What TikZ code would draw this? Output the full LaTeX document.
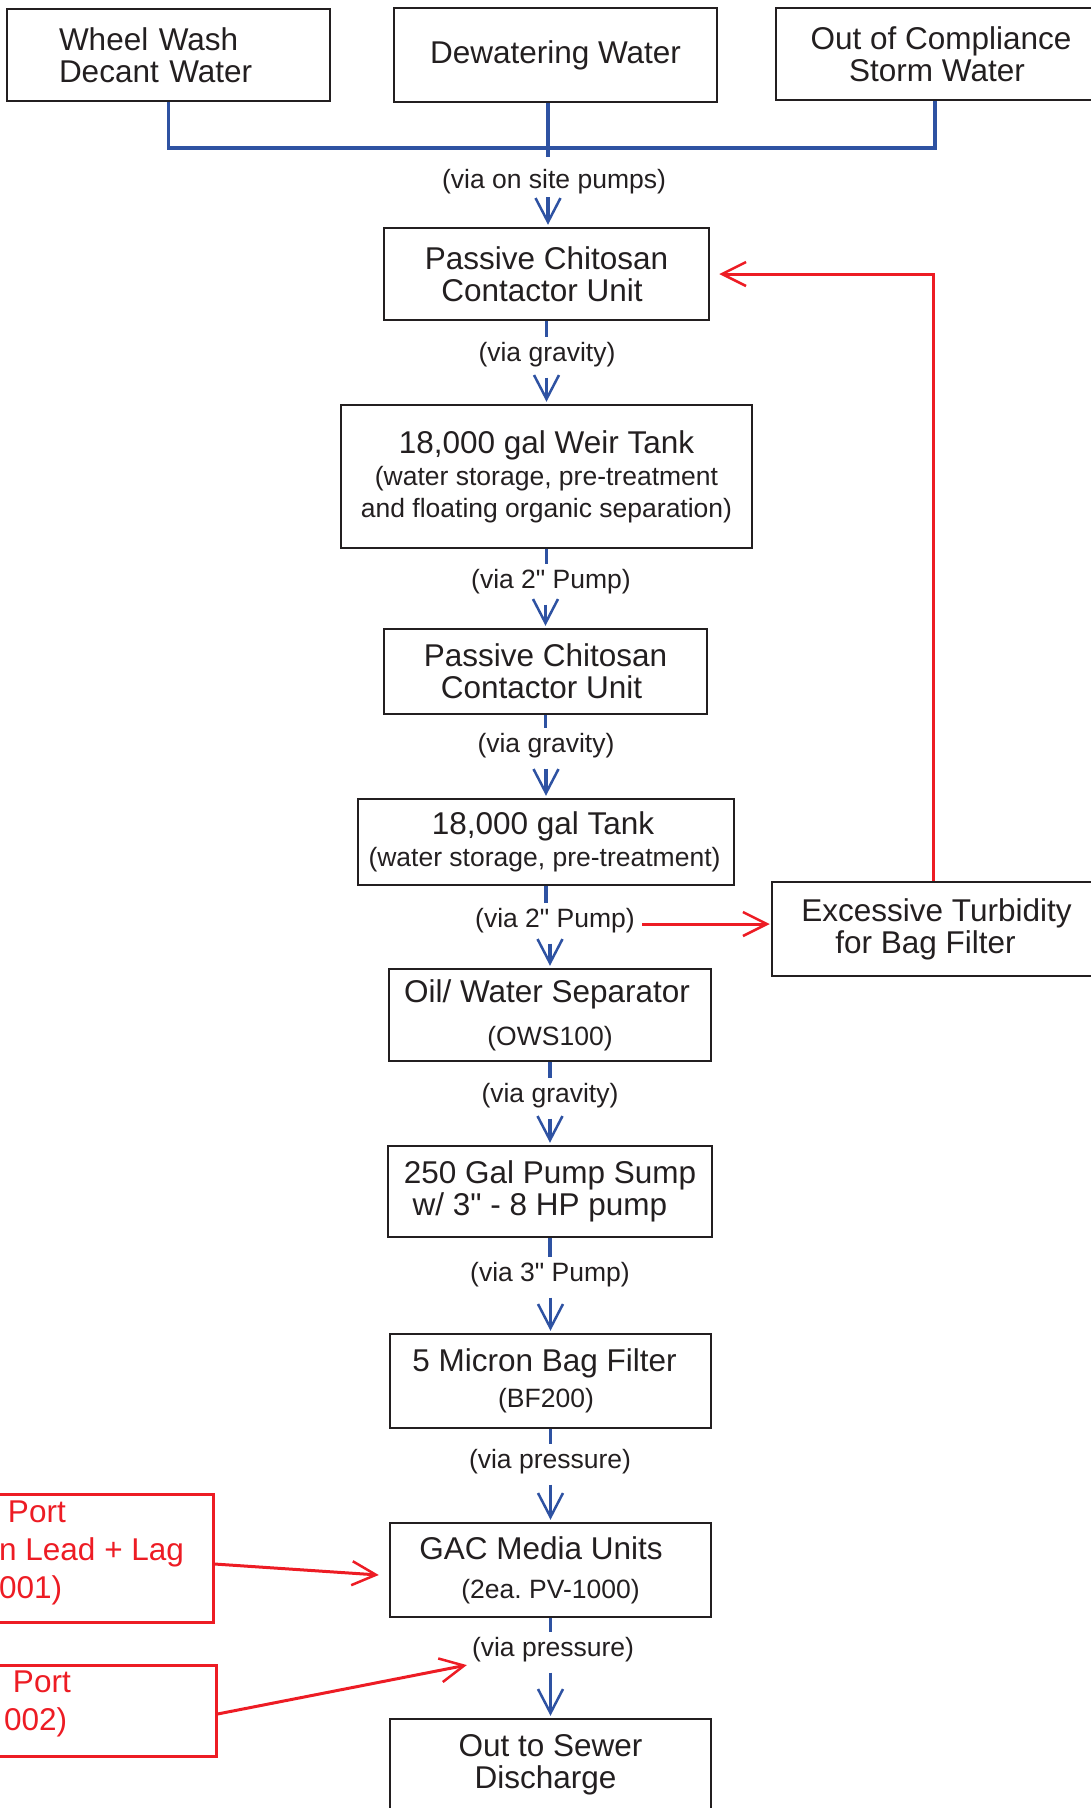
\documentclass[tikz,border=0pt]{standalone}
\usepackage{fontspec}
\newfontfamily\sitefont{Liberation Sans}
\usepackage{tikz}
\usetikzlibrary{arrows.meta,calc,positioning}
\definecolor{SiteInk} {RGB}{35, 31, 32}
\definecolor{SiteBlue}{RGB}{46, 82,162}
\definecolor{SiteRed} {RGB}{237,28, 36}
\newcommand{\bigtxt}{\sitefont\fontsize{31.5}{32}\selectfont}
\newcommand{\smalltxt}{\sitefont\fontsize{26.5}{32}\selectfont}
\frenchspacing

\begin{document}
\begin{tikzpicture}[x=1pt,y=-1pt,
  unit/.style={draw=SiteInk,line width=2.5pt,text=SiteInk,font=\bigtxt,inner sep=0pt,align=center},
  via/.style={text=SiteInk,font=\smalltxt,inner sep=0pt},
  pipe/.style={draw=SiteBlue,line width=3.5pt},
  flow/.style={pipe,-{Straight Barb[length=24pt,width=25pt,line width=2.5pt]},shorten <=10pt,shorten >=2pt},
  alarm/.style={draw=SiteRed,line width=3pt,-{Straight Barb[length=24pt,width=24pt,line width=2.5pt]}},
  portbox/.style={draw=SiteRed,line width=3pt,inner sep=0pt},
  porttext/.style={text=SiteRed,font=\sitefont\fontsize{31.5}{38}\selectfont,inner sep=0pt,align=left,anchor=north west}]
\useasboundingbox (0,0) rectangle (1091,1808);
\clip (0,0) rectangle (1091,1808);

\node[unit,minimum width=323pt,minimum height=92pt,text width=219pt,align=left] (wash) at (168.5,55) {Wheel Wash\\Decant Water};
\node[unit,minimum width=323pt,minimum height=94pt] (dewater) at (555.5,55) {Dewatering Water};
\node[unit,minimum width=330pt,minimum height=92pt] (storm) at (941,54) {Out of Compliance\\Storm Water\hspace*{8pt}};
\coordinate (bus) at (548,148);
\draw[pipe] (wash.south) |- (bus) -| ([xshift=-6pt]storm.south);
\node[via] (v1) at (554,181.5) {(via on site pumps)};
\draw[pipe,shorten >=12pt] (bus |- dewater.south) -- (bus |- v1.north);

\node[unit,minimum width=325pt,minimum height=92pt] (chitoA) at (546.5,274) {Passive Chitosan\\Contactor Unit\hspace*{9pt}};
\node[via] (v2) at (547,355) {(via gravity)};
\node[unit,minimum width=411pt,minimum height=143pt] (weir) at (546.5,476.5) {18,000 gal Weir Tank\\{\smalltxt (water storage, pre-treatment}\\{\smalltxt and floating organic separation)}};
\node[via] (v3) at (551,582) {(via 2" Pump)};
\node[unit,minimum width=323pt,minimum height=85pt] (chitoB) at (545.5,671.5) {Passive Chitosan\\Contactor Unit\hspace*{8pt}};
\node[via] (v4) at (546,746) {(via gravity)};
\node[unit,minimum width=376pt,minimum height=86pt] (tank) at (546,842) {18,000 gal Tank\hspace*{6pt}\\{\smalltxt (water storage, pre-treatment)}\hspace*{3pt}};
\node[via] (v5) at (555,921) {(via 2" Pump)};
\node[unit,minimum width=322pt,minimum height=92pt] (ows) at (550,1015) {Oil/ Water Separator\hspace*{6pt}\\[11pt]{\smalltxt (OWS100)}};
\node[via] (v6) at (550,1096) {(via gravity)};
\node[unit,minimum width=324pt,minimum height=91pt,align=left] (sump) at (550,1191.5) {250 Gal Pump Sump\\\hspace*{8.8pt}w/ 3" - 8 HP pump};
\node[via] (v7) at (550,1275) {(via 3" Pump)};
\node[unit,minimum width=321pt,minimum height=94pt] (bag) at (550.5,1381) {5 Micron Bag Filter\hspace*{12pt}\\[4pt]{\smalltxt (BF200)}\hspace*{9pt}};
\node[via] (v8) at (550,1462) {(via pressure)};
\node[unit,minimum width=321pt,minimum height=94pt] (gac) at (550.5,1570) {GAC Media Units\hspace*{19pt}\\[7pt]{\smalltxt (2ea. PV-1000)}};
\node[via] (v9) at (553,1650) {(via pressure)};
\node[unit,minimum width=321pt,minimum height=91pt] (sewer) at (550.5,1764.5) {Out to Sewer\\Discharge\hspace*{10pt}};

\draw[flow,shorten <=3pt] (bus |- v1.south) -- (bus |- chitoA.north);
\foreach \a/\v/\b in {chitoA/v2/weir,weir/v3/chitoB,chitoB/v4/tank,tank/v5/ows,
                      ows/v6/sump,sump/v7/bag,bag/v8/gac,gac/v9/sewer} {
  \draw[pipe,shorten >=5pt] (\a.south) -- (\a.south |- \v.north);
  \draw[flow] (\b.north |- \v.south) -- (\b.north);
}

\node[unit,minimum width=322pt,minimum height=94pt] (turb) at (933,929) {\hspace*{7pt}Excessive Turbidity\\for Bag Filter\hspace*{15pt}};
\draw[alarm,shorten <=7pt,shorten >=1pt] ([yshift=-3pt]v5.east) -- ([yshift=-3pt]v5.east -| turb.west);
\draw[alarm,shorten >=9pt] (turb.north) |- (chitoA.east);

\node[portbox,minimum width=228pt,minimum height=128pt] (portA) at (99,1558) {};
\node[porttext] (portAtxt) at (-1,1500.4) {\hspace*{8.8pt}Port\\n Lead + Lag\\001)};
\node[portbox,minimum width=316pt,minimum height=91pt] (portB) at (58,1710.5) {};
\node[porttext] (portBtxt) at (4,1670.4) {\hspace*{8.8pt}Port\\002)};
\draw[alarm] ([yshift=-6pt]portA.east) -- ([xshift=-10pt,yshift=-5pt]gac.west);
\draw[alarm] ([yshift=-3.5pt]portB.east) -- ([xshift=-5pt,yshift=-2.5pt]v9.south west);
\end{tikzpicture}
\end{document}
